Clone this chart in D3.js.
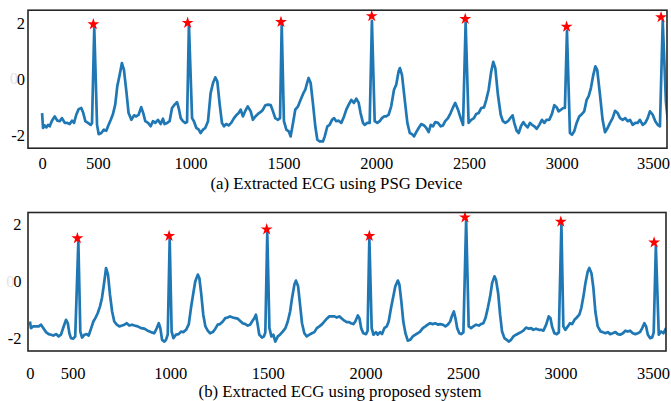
<!DOCTYPE html>
<html>
<head>
<meta charset="utf-8">
<script src="https://cdn.jsdelivr.net/npm/d3@7"></script>
<style>
  html, body { margin: 0; padding: 0; background: #fff; }
  svg { display: block; }
  text { font-family: "Liberation Serif", "Times New Roman", serif; fill: #000; }
</style>
</head>
<body>
<svg id="chart" width="671" height="401"></svg>
<script>
// ---------- DATA ----------
// (a) ECG from PSG device: [sample, amplitude]
const psgSignal = [
 [200,-1.22],[205,-1.75],[214,-1.66],[223,-1.73],[232,-1.64],[241,-1.69],[253,-1.49],[268,-1.34],[282,-1.49],[295,-1.51],
 [307,-1.40],[322,-1.57],[336,-1.57],[349,-1.61],[361,-1.49],[372,-1.57],[384,-1.28],[397,-1.08],[411,-1.04],[422,-1.22],
 [433,-1.51],[447,-1.57],[462,-1.64],[469,-1.57],[481,1.82],[496,-1.64],[505,-1.97],[519,-1.93],[533,-1.81],[546,-1.85],
 [555,-1.69],[570,-1.46],[582,-1.25],[594,-0.92],[605,-0.27],[618,0.14],[630,0.56],[641,0.32],[654,-0.45],[666,-1.22],
 [681,-1.46],[695,-1.30],[707,-1.34],[720,-1.28],[734,-1.01],[745,-1.22],[756,-1.51],[771,-1.57],[785,-1.69],[797,-1.51],
 [810,-1.57],[824,-1.46],[839,-1.61],[851,-1.42],[860,-1.61],[874,-1.57],[887,-1.51],[900,-1.04],[914,-0.92],[927,-0.83],
 [936,-1.04],[947,-1.40],[959,-1.51],[971,-1.57],[981,-1.54],[991,1.94],[1008,-1.40],[1018,-1.51],[1031,-1.75],[1044,-1.81],
 [1054,-1.93],[1067,-1.81],[1079,-1.75],[1094,-1.51],[1108,-0.51],[1121,-0.15],[1133,0.05],[1144,-0.09],[1157,-0.92],[1169,-1.57],
 [1180,-1.69],[1192,-1.61],[1205,-1.66],[1219,-1.57],[1234,-1.40],[1246,-1.30],[1259,-1.22],[1270,-1.10],[1282,-1.34],[1295,-1.14],
 [1308,-0.98],[1324,-1.16],[1336,-1.46],[1349,-1.34],[1363,-1.25],[1378,-1.18],[1390,-1.10],[1403,-0.94],[1417,-0.92],[1432,-0.94],
 [1444,-1.16],[1456,-1.40],[1471,-1.46],[1482,-1.40],[1491,1.94],[1503,-1.51],[1516,-1.81],[1529,-1.87],[1539,-2.05],[1552,-1.57],
 [1564,-1.10],[1579,-0.98],[1593,-0.75],[1606,-0.54],[1618,-0.39],[1629,-0.12],[1636,0.03],[1647,-0.15],[1660,-0.92],[1672,-1.69],
 [1683,-2.17],[1696,-2.23],[1713,-2.23],[1723,-2.05],[1737,-1.69],[1749,-1.64],[1762,-1.46],[1773,-1.40],[1785,-1.51],[1798,-1.49],
 [1812,-1.57],[1827,-1.34],[1839,-1.10],[1852,-0.92],[1866,-0.75],[1880,-0.86],[1893,-0.71],[1906,-0.86],[1916,-1.22],[1929,-1.57],
 [1938,-1.64],[1952,-1.57],[1965,-1.57],[1977,2.06],[1992,-1.51],[2006,-1.57],[2019,-1.51],[2031,-1.40],[2042,-1.34],[2054,-1.34],
 [2067,-1.28],[2081,-0.98],[2096,-0.39],[2108,-0.21],[2121,0.27],[2128,0.38],[2139,0.14],[2154,-0.75],[2168,-1.57],[2181,-1.93],
 [2193,-1.97],[2204,-2.05],[2216,-1.90],[2229,-1.75],[2243,-1.61],[2258,-1.66],[2270,-1.75],[2283,-1.90],[2294,-1.64],[2306,-1.69],
 [2318,-1.54],[2333,-1.57],[2348,-1.69],[2360,-1.66],[2372,-1.51],[2387,-1.40],[2401,-1.22],[2414,-1.02],[2426,-0.86],[2441,-1.10],
 [2455,-1.40],[2468,-1.64],[2482,2.00],[2498,-1.57],[2512,-1.46],[2527,-1.40],[2539,-1.25],[2552,-1.22],[2566,-1.04],[2581,-1.02],
 [2593,-0.75],[2606,-0.39],[2620,0.27],[2631,0.60],[2642,0.38],[2656,-0.57],[2671,-1.28],[2683,-1.51],[2696,-1.57],[2710,-1.51],
 [2726,-1.37],[2735,-1.30],[2744,-1.57],[2757,-1.85],[2768,-1.93],[2780,-1.69],[2793,-1.54],[2803,-1.64],[2816,-1.73],[2829,-1.57],
 [2840,-1.64],[2852,-1.69],[2865,-1.78],[2879,-1.64],[2893,-1.46],[2906,-1.57],[2918,-1.46],[2933,-1.46],[2947,-1.25],[2960,-0.94],
 [2973,-1.02],[2983,-1.16],[2996,-1.10],[3008,-1.04],[3017,-1.04],[3028,1.70],[3044,-1.93],[3055,-1.99],[3067,-1.87],[3080,-1.57],
 [3094,-1.34],[3109,-1.25],[3121,-1.16],[3134,-0.75],[3145,-0.62],[3157,-0.33],[3170,0.14],[3181,0.44],[3191,0.32],[3206,-0.57],
 [3220,-1.46],[3233,-1.90],[3247,-1.75],[3260,-1.57],[3274,-1.40],[3287,-1.14],[3301,-1.22],[3314,-1.40],[3328,-1.46],[3342,-1.40],
 [3355,-1.51],[3368,-1.46],[3382,-1.64],[3396,-1.57],[3409,-1.57],[3421,-1.46],[3436,-1.64],[3450,-1.57],[3463,-1.40],[3475,-1.16],
 [3490,-1.28],[3504,-1.51],[3517,-1.64],[3529,-1.69],[3544,2.06],[3561,-0.80],[3571,-1.46]
];
// (b) ECG from proposed system: [sample, amplitude]
const proposedSignal = [
 [281,-1.42],[286,-1.65],[298,-1.59],[312,-1.59],[326,-1.59],[338,-1.53],[349,-1.65],[363,-1.79],[377,-1.86],[389,-1.88],
 [401,-1.91],[415,-1.86],[428,-1.94],[440,-1.88],[452,-1.63],[466,-1.36],[475,-1.48],[483,-1.83],[491,-2.00],[503,-2.02],
 [513,-1.94],[529,1.39],[539,-1.77],[548,-1.98],[560,-1.88],[572,-1.86],[582,-1.91],[594,-1.67],[606,-1.42],[616,-1.30],
 [628,-1.13],[640,-0.89],[650,-0.60],[662,-0.02],[671,0.45],[681,0.22],[691,-0.48],[702,-1.07],[713,-1.42],[726,-1.53],
 [739,-1.59],[753,-1.56],[765,-1.53],[777,-1.48],[790,-1.56],[804,-1.53],[816,-1.56],[833,-1.59],[850,-1.65],[867,-1.67],
 [884,-1.74],[901,-1.79],[918,-1.83],[931,-1.65],[941,-1.48],[949,-1.65],[958,-2.06],[970,-2.12],[978,-2.06],[987,-1.88],
 [997,1.45],[1007,-1.77],[1016,-2.00],[1029,-1.88],[1043,-1.86],[1055,-1.77],[1067,-1.79],[1081,-1.71],[1095,-1.51],[1106,-0.95],
 [1118,-0.43],[1128,-0.02],[1141,0.22],[1149,0.10],[1159,-0.48],[1169,-1.18],[1180,-1.59],[1192,-1.74],[1204,-1.83],[1218,-1.79],
 [1231,-1.67],[1243,-1.53],[1255,-1.51],[1269,-1.42],[1282,-1.30],[1294,-1.28],[1306,-1.24],[1320,-1.28],[1333,-1.30],[1346,-1.32],
 [1357,-1.39],[1371,-1.48],[1385,-1.51],[1397,-1.56],[1409,-1.53],[1419,-1.42],[1431,-1.30],[1439,-1.18],[1448,-1.53],[1456,-1.88],
 [1470,-1.98],[1480,-1.94],[1487,-1.80],[1497,1.69],[1508,-1.65],[1518,-1.94],[1528,-1.88],[1538,-2.12],[1551,-1.94],[1562,-1.88],
 [1576,-1.77],[1590,-1.65],[1602,-1.42],[1614,-1.07],[1624,-0.60],[1636,-0.13],[1644,0.01],[1655,-0.19],[1665,-0.83],[1675,-1.48],
 [1687,-1.83],[1699,-1.94],[1713,-1.88],[1726,-1.83],[1738,-1.79],[1751,-1.65],[1764,-1.59],[1778,-1.51],[1789,-1.42],[1802,-1.32],
 [1815,-1.24],[1829,-1.24],[1841,-1.24],[1853,-1.28],[1866,-1.24],[1880,-1.32],[1892,-1.39],[1904,-1.44],[1916,-1.44],[1926,-1.48],
 [1938,-1.51],[1948,-1.42],[1961,-1.21],[1969,-1.30],[1978,-1.65],[1989,-1.83],[2003,-1.86],[2011,-1.75],[2020,1.51],[2032,-1.65],
 [2041,-1.88],[2054,-1.79],[2063,-1.88],[2075,-1.79],[2085,-1.86],[2097,-1.65],[2109,-1.59],[2119,-1.42],[2131,-0.95],[2143,-0.54],
 [2153,-0.19],[2166,0.01],[2174,-0.13],[2184,-0.72],[2194,-1.42],[2205,-1.83],[2217,-2.09],[2229,-2.06],[2243,-1.94],[2256,-1.88],
 [2268,-1.83],[2280,-1.77],[2294,-1.65],[2307,-1.59],[2319,-1.53],[2331,-1.48],[2345,-1.51],[2358,-1.48],[2371,-1.53],[2382,-1.51],
 [2396,-1.53],[2410,-1.59],[2422,-1.53],[2434,-1.42],[2444,-1.21],[2453,-1.07],[2461,-1.30],[2470,-1.65],[2481,-1.83],[2490,-1.86],
 [2502,-1.80],[2516,2.15],[2529,-1.59],[2541,-1.65],[2553,-1.59],[2567,-1.53],[2581,-1.56],[2592,-1.51],[2604,-1.48],[2615,-1.30],
 [2627,-0.95],[2639,-0.54],[2649,-0.08],[2661,0.16],[2669,0.04],[2680,-0.43],[2690,-1.18],[2700,-1.77],[2712,-2.00],[2724,-2.06],
 [2734,-2.12],[2746,-2.06],[2758,-1.94],[2772,-1.88],[2786,-1.83],[2797,-1.79],[2809,-1.74],[2823,-1.63],[2837,-1.67],[2849,-1.65],
 [2860,-1.71],[2874,-1.67],[2888,-1.71],[2900,-1.71],[2912,-1.74],[2926,-1.53],[2939,-1.24],[2948,-1.30],[2956,-1.59],[2968,-1.83],
 [2980,-1.86],[2991,-1.80],[3004,1.98],[3014,-1.59],[3024,-1.71],[3037,-1.59],[3048,-1.48],[3059,-1.51],[3071,-1.36],[3083,-1.28],
 [3096,-1.18],[3106,-0.95],[3117,-0.54],[3127,-0.08],[3139,0.33],[3147,0.45],[3158,0.27],[3168,-0.25],[3178,-1.07],[3190,-1.59],
 [3205,-1.77],[3216,-1.79],[3229,-1.83],[3242,-1.79],[3254,-1.86],[3267,-1.83],[3281,-1.79],[3293,-1.86],[3305,-1.88],[3319,-1.83],
 [3332,-1.74],[3344,-1.77],[3356,-1.74],[3370,-1.83],[3383,-1.86],[3395,-1.83],[3407,-1.79],[3418,-1.65],[3429,-1.48],[3438,-1.59],
 [3447,-1.88],[3459,-2.00],[3469,-1.98],[3477,-1.80],[3488,1.22],[3503,-1.88],[3515,-1.77],[3527,-1.83],[3540,-1.65]
];
// detected R peaks (red stars)
const psgPeakX = [476, 984, 1487, 1976, 2480, 3026, 3535];
const psgPeakY = [1.94, 1.99, 2.02, 2.23, 2.13, 1.85, 2.19];
const proposedPeakX = [524, 994, 1494, 2020, 2510, 3001, 3479];
const proposedPeakY = [1.49, 1.57, 1.80, 1.57, 2.22, 2.07, 1.34];
// tick labels
const xTickLabels = ["0", "500", "1000", "1500", "2000", "2500", "3000", "3500"];
const psgTickPos = [200, 500, 1000, 1500, 2000, 2500, 3000, 3500];
const proposedTickPos = [281, 500, 1000, 1500, 2000, 2500, 3000, 3500];
const yTickValues = [-2, 0, 2];
const yTickLabels = ["-2", "0", "2"];
const captions = ["(a) Extracted ECG using PSG Device", "(b) Extracted ECG using proposed system"];

// ---------- LAYOUT ----------
const W = 671;
const svg = d3.select("#chart");
const panels = [
  { id: "a", signal: psgSignal, px: psgPeakX, py: psgPeakY, ticks: psgTickPos,
    xDomain: [124, 3567], yDomain: [-2.47, 2.44],
    left: 28, right: 667, top: 10.2, bottom: 148.2, yLabelX: 25, tickBase: 168.5, capBase: 188.5, caption: captions[0] },
  { id: "b", signal: proposedSignal, px: proposedPeakX, py: proposedPeakY, ticks: proposedTickPos,
    xDomain: [271, 3540], yDomain: [-2.45, 2.39],
    left: 28, right: 666, top: 212.5, bottom: 351, yLabelX: 21.5, tickBase: 378.5, capBase: 396.8, caption: captions[1] }
];

panels.forEach(p => {
  const x = d3.scaleLinear().domain(p.xDomain).range([p.left, p.right]);
  const y = d3.scaleLinear().domain(p.yDomain).range([p.bottom, p.top]);
  const g = svg.append("g");

  g.append("clipPath").attr("id", "clip-" + p.id)
    .append("rect").attr("x", p.left).attr("y", p.top)
    .attr("width", p.right - p.left).attr("height", p.bottom - p.top);

  const line = d3.line().x(d => x(d[0])).y(d => y(d[1]));
  g.append("path").datum(p.signal)
    .attr("clip-path", "url(#clip-" + p.id + ")")
    .attr("d", line)
    .attr("fill", "none")
    .attr("stroke", "#1f77b4")
    .attr("stroke-width", 2.7)
    .attr("stroke-linejoin", "round");

  g.selectAll("path.star").data(p.px.map((v, i) => [v, p.py[i]]))
    .join("path").attr("class", "star")
    .attr("transform", d => `translate(${x(d[0])},${y(d[1])})`)
    .attr("d", d3.symbol().type(d3.symbolStar).size(44))
    .attr("fill", "#ff0000");

  // frame
  g.append("rect").attr("x", p.left).attr("y", p.top)
    .attr("width", p.right - p.left).attr("height", p.bottom - p.top)
    .attr("fill", "none").attr("stroke", "#262626").attr("stroke-width", 1.6);

  // x axis (labels only)
  const xa = d3.axisBottom(x).tickValues(p.ticks)
    .tickFormat((d, i) => xTickLabels[i]).tickSize(0).tickPadding(0);
  const gx = g.append("g").attr("transform", `translate(0,${p.tickBase})`).call(xa);
  gx.select(".domain").remove();
  gx.selectAll("text").attr("dy", null).attr("y", 0)
    .style("font-family", '"Liberation Serif", serif').style("font-size", "16.5px").attr("fill", "#000");
  // keep the rightmost label inside the page
  gx.selectAll(".tick").each(function () {
    const t = d3.select(this).select("text");
    const bb = this.getBBox();
    const tr = this.transform.baseVal.consolidate();
    const tx = tr ? tr.matrix.e : 0;
    const over = tx + bb.x + bb.width - (W - 1);
    if (over > 0) t.attr("x", -over);
  });

  // y axis (labels only)
  const ya = d3.axisLeft(y).tickValues(yTickValues)
    .tickFormat((d, i) => yTickLabels[i]).tickSize(0).tickPadding(0);
  const gy = g.append("g").attr("transform", `translate(${p.yLabelX},0)`).call(ya);
  gy.select(".domain").remove();
  gy.selectAll("text").attr("dy", "0.34em")
    .style("font-family", '"Liberation Serif", serif').style("font-size", "16.5px").attr("fill", "#000");
  // faint ghost glyph beside the zero label
  g.append("text").attr("x", p.yLabelX - 7).attr("y", y(0)).attr("dy", "0.34em")
    .attr("text-anchor", "end").style("font-size", "16.5px").style("fill", "#e4e4e4").text("0");

  // caption
  g.append("text").attr("x", (p.left + p.right) / 2 + (p.id === "a" ? -11 : -7)).attr("y", p.capBase)
    .attr("text-anchor", "middle").style("font-size", "16.8px").text(p.caption);
});
</script>
</body>
</html>
